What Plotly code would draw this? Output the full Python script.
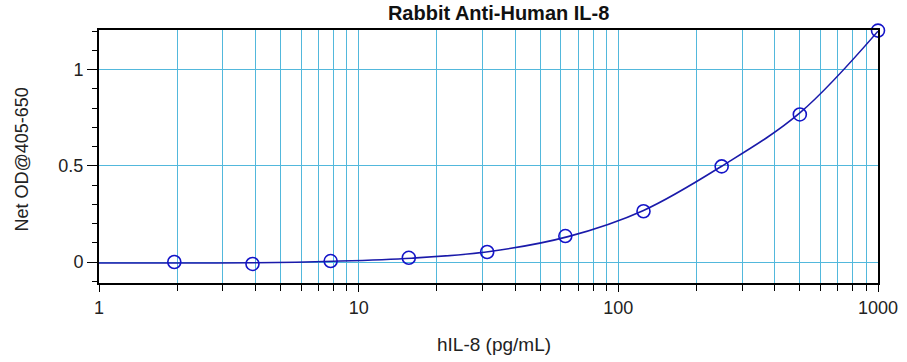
import plotly.graph_objects as go

conc = [1.95, 3.9, 7.8, 15.6, 31.25, 62.5, 125, 250, 500, 1000]
od = [0.0, -0.01, 0.005, 0.022, 0.052, 0.135, 0.264, 0.497, 0.767, 1.203]

curve_x = [1, 2, 4, 8, 16, 32, 64, 125, 250, 500, 1000]
curve_y = [-0.005, -0.005, -0.004, 0.004, 0.02, 0.055, 0.132, 0.268, 0.498, 0.775, 1.2]

title = "Rabbit Anti-Human IL-8"
x_label = "hIL-8 (pg/mL)"
y_label = "Net OD@405-650"
x_ticks = [1, 10, 100, 1000]
y_ticks = [0, 0.5, 1]

FONT = "Liberation Sans, Arial, sans-serif"
grid = "#52b8dc"
fig = go.Figure()
fig.add_trace(go.Scatter(x=curve_x, y=curve_y, mode="lines", cliponaxis=False,
                         line=dict(color="#1a1aaa", width=1.6, shape="spline", smoothing=1.0), hoverinfo="skip"))
fig.add_trace(go.Scatter(x=conc, y=od, mode="markers", cliponaxis=False,
                         marker=dict(symbol="circle-open", size=13, color="#1414c8", line=dict(width=1.6))))

fig.update_layout(
    width=907, height=362, showlegend=False,
    paper_bgcolor="white", plot_bgcolor="white",
    margin=dict(l=99, r=29, t=30, b=79, autoexpand=False),
    title=dict(text="<b>" + title + "</b>", xref="paper", x=0.513, xanchor="center",
               yref="container", y=0.965, yanchor="middle",
               font=dict(family=FONT, size=20, color="#111")),
    font=dict(family=FONT, size=18, color="#222"),
    annotations=[
        dict(text=x_label, xref="paper", yref="paper", x=0.5, y=0, xshift=5, yshift=-61,
             xanchor="center", yanchor="middle", showarrow=False, font=dict(family=FONT, size=19, color="#222")),
        dict(text=y_label, xref="paper", yref="paper", x=0, y=0.5, xshift=-78, yshift=-3,
             xanchor="center", yanchor="middle", textangle=-90, showarrow=False,
             font=dict(family=FONT, size=18, color="#222")),
    ],
)
fig.update_xaxes(type="log", range=[0, 3], tickvals=x_ticks, ticktext=[str(v) for v in x_ticks],
                 automargin=False,
                 ticks="outside", ticklen=7, tickcolor="black", tickwidth=1,
                 showline=True, linecolor="black", linewidth=2, mirror=True,
                 showgrid=True, gridcolor=grid, gridwidth=1,
                 minor=dict(dtick="D1", ticks="outside", ticklen=6, tickcolor="black", showgrid=True, gridcolor=grid, gridwidth=1),
                 zeroline=False)
fig.update_yaxes(range=[-0.109, 1.206], tickvals=y_ticks, ticktext=["0", "0.5", "1"],
                 automargin=False,
                 ticks="outside", ticklen=10, tickcolor="black",
                 showline=True, linecolor="black", linewidth=2, mirror=True,
                 showgrid=True, gridcolor=grid, gridwidth=1,
                 minor=dict(dtick=0.1, ticks="outside", ticklen=5, tickcolor="black", showgrid=False),
                 zeroline=False)
fig.write_html("out.html", config={"displayModeBar": False},
               post_script="document.body.style.margin='0';document.body.style.overflow='hidden';")
